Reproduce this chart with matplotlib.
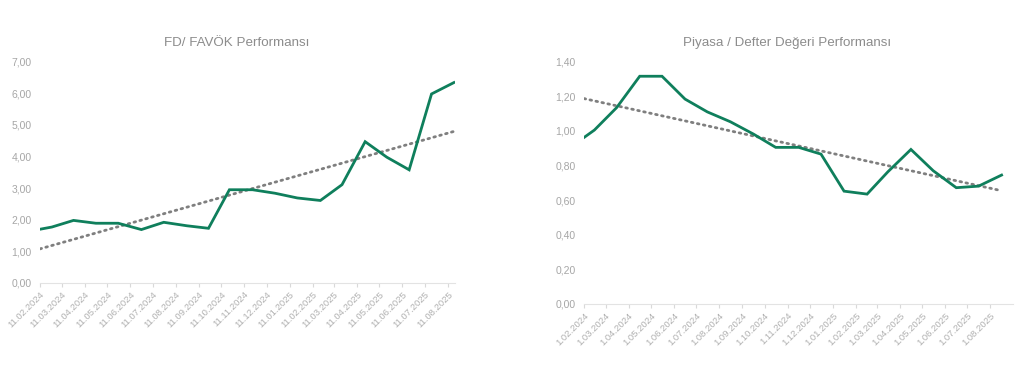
import numpy as np
import pandas as pd
import matplotlib
matplotlib.use("Agg")
import matplotlib.pyplot as plt
import matplotlib.dates as mdates

plt.rcParams['font.family'] = ['Liberation Sans', 'DejaVu Sans']

# FD / FAVOK
fd_dates = ["2024-02-11", "2024-02-27", "2024-03-27", "2024-04-26", "2024-05-26",
            "2024-06-26", "2024-07-26", "2024-08-26", "2024-09-24", "2024-10-22",
            "2024-11-22", "2024-12-22", "2025-01-21", "2025-02-21", "2025-03-22",
            "2025-04-22", "2025-05-21", "2025-06-20", "2025-07-20", "2025-08-19"]
fd_values = [1.70, 1.77, 1.98, 1.89, 1.89, 1.69, 1.92, 1.81, 1.73, 2.95,
             2.95, 2.84, 2.69, 2.61, 3.11, 4.47, 3.98, 3.58, 5.98, 6.34]
fd_ticks = pd.date_range("2024-02-01", "2025-08-01", freq="MS") + pd.Timedelta(days=10)

# Piyasa / Defter Degeri
pd_dates = ["2024-02-01", "2024-02-15", "2024-03-16", "2024-04-16", "2024-05-16",
            "2024-06-16", "2024-07-16", "2024-08-16", "2024-09-16", "2024-10-16",
            "2024-11-16", "2024-12-16", "2025-01-16", "2025-02-16", "2025-03-16",
            "2025-04-16", "2025-05-16", "2025-06-16", "2025-07-16", "2025-08-16"]
pd_values = [0.962, 1.005, 1.135, 1.316, 1.316, 1.184, 1.110, 1.053, 0.982, 0.905,
             0.905, 0.866, 0.652, 0.635, 0.764, 0.893, 0.770, 0.672, 0.681, 0.745]
pd_ticks = pd.date_range("2024-02-01", "2025-08-01", freq="MS")

green = "#0f7f5c"
grey_txt = "#a6a6a6"
title_col = "#8c8c8c"

fig = plt.figure(figsize=(10.24, 3.66), dpi=100)


def draw(ax, dates, values, ticks, labels, ymax, ystep, xmax, title, title_x):
    x = pd.to_datetime(dates)
    ax.plot(x, values, color=green, lw=2.0, solid_joinstyle="miter", zorder=3)
    xn = mdates.date2num(x)
    k, b = np.polyfit(xn, values, 1)
    ax.plot(x, k * xn + b, color="#7f7f7f", lw=2.0, ls=(0, (0.6, 1.6)),
            dash_capstyle="round", zorder=2)
    ax.set_xlim(x[0], pd.Timestamp(xmax))
    ax.set_ylim(0, ymax)
    yt = np.arange(0, ymax + ystep / 2, ystep)
    ax.set_yticks(yt)
    ax.set_yticklabels([f"{v:.2f}".replace(".", ",") for v in yt])
    ax.set_xticks(ticks)
    ax.set_xticklabels(labels, rotation=45, ha="right", rotation_mode="anchor")
    for s in ["top", "right", "left"]:
        ax.spines[s].set_visible(False)
    ax.spines["bottom"].set_color("#e3e3e3")
    ax.tick_params(axis="y", length=0, pad=6, labelsize=7.5, labelcolor=grey_txt)
    ax.tick_params(axis="x", length=3, color="#d9d9d9", pad=2, labelsize=6.8,
                   labelcolor="#b0b0b0")
    fig.text(title_x, 0.882, title, ha="center", va="center", fontsize=9.6,
             color=title_col)


ax1 = fig.add_axes([0.039, 0.2268, 0.405, 0.6046])
draw(ax1, fd_dates, fd_values, fd_ticks, [d.strftime("%d.%m.%Y") for d in fd_ticks],
     7, 1, "2025-08-20", "FD/ FAVÖK Performansı", 0.231)

ax2 = fig.add_axes([0.5703, 0.1694, 0.4187, 0.662])
draw(ax2, pd_dates, pd_values, pd_ticks,
     [f"1.{d.month:02d}.{d.year}" for d in pd_ticks],
     1.4, 0.2, "2025-08-31", "Piyasa / Defter Değeri Performansı", 0.769)

fig.savefig("out.png", dpi=100)
